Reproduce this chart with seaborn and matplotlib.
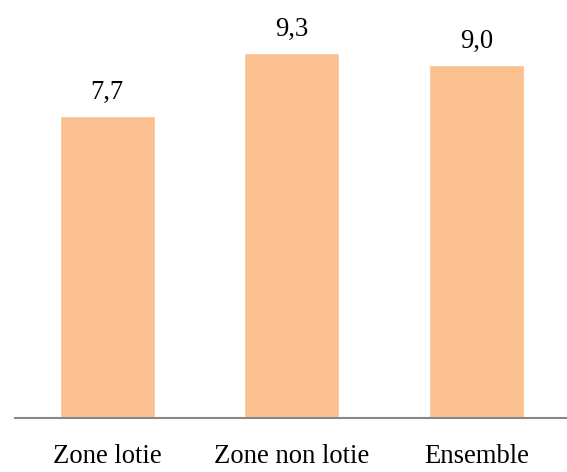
import matplotlib
matplotlib.use("Agg")
import matplotlib.pyplot as plt
import seaborn as sns
import pandas as pd

# data
categories = ["Zone lotie", "Zone non lotie", "Ensemble"]
values = [7.7, 9.3, 9.0]

df = pd.DataFrame({"zone": categories, "valeur": values})

sns.set_style("white")
plt.rcParams['font.family'] = ['Liberation Serif', 'DejaVu Serif']

fig = plt.figure(figsize=(5.67, 4.72), dpi=100)
ax = fig.add_axes([15 / 567, 54 / 472, 553.5 / 567, 392 / 472])

sns.barplot(data=df, x="zone", y="valeur", color="#FAC090", saturation=1,
            width=0.515, ax=ax)

ax.set_xlim(-0.5, 2.5)
ax.set_ylim(0, 10)

# bar labels with a comma as decimal separator
labels = [f"{v:.1f}".replace(".", ",") for v in values]
ax.bar_label(ax.containers[0], labels=labels, padding=8, fontsize=19.2, color="black")

for side in ["top", "left", "right"]:
    ax.spines[side].set_visible(False)
ax.spines["bottom"].set_color("#878787")
ax.spines["bottom"].set_linewidth(1.5)

ax.set_yticks([])
ax.set_xlabel("")
ax.set_ylabel("")
ax.tick_params(axis="x", length=0, pad=19, labelsize=19.2, labelcolor="black")

fig.savefig("out.png", dpi=100)
